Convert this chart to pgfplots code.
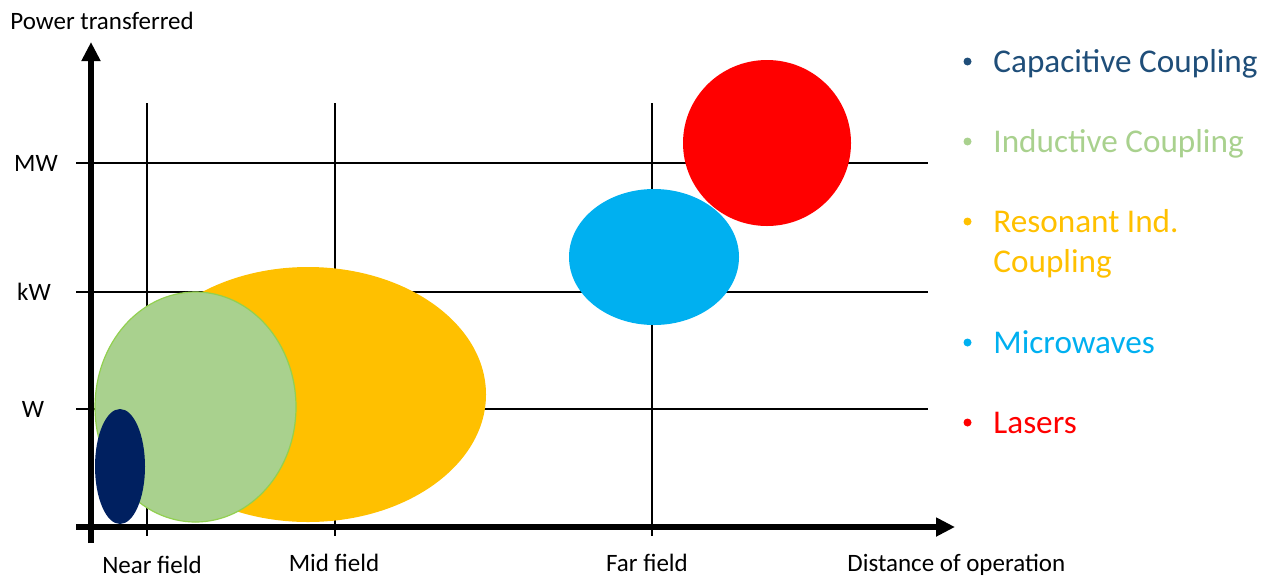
\documentclass[border=0pt]{standalone}
\usepackage{pgfplots}
\pgfplotsset{compat=1.18}
\usepackage{fontspec}
\setmainfont{Carlito}
\usetikzlibrary{arrows.meta}

\definecolor{capfill}{HTML}{002060}
\definecolor{captext}{HTML}{1F4E79}
\definecolor{indfill}{HTML}{A9D18E}
\definecolor{indedge}{HTML}{92D050}
\definecolor{resfill}{HTML}{FFC000}
\definecolor{micfill}{HTML}{00B0F0}
\definecolor{lasfill}{HTML}{FF0000}

\begin{document}
\begin{tikzpicture}
\begin{axis}[
  width=636pt, height=289.5pt, scale only axis,
  xmin=0, xmax=1272, ymin=0, ymax=579, y dir=reverse,
  axis lines=none, clip=false,
]
% corners of the canvas
\coordinate (bl) at (axis cs:0,579);
\coordinate (tr) at (axis cs:1272,0);

% reference lines: distance regimes and power levels
\draw[black, line width=0.6pt] (axis cs:147,103) -- (axis cs:147,536);
\draw[black, line width=0.6pt] (axis cs:335,103) -- (axis cs:335,536);
\draw[black, line width=0.6pt] (axis cs:652,103) -- (axis cs:652,536);
\draw[black, line width=0.6pt] (axis cs:76,163) -- (axis cs:928,163);
\draw[black, line width=0.6pt] (axis cs:76,292) -- (axis cs:928,292);
\draw[black, line width=0.6pt] (axis cs:76,409) -- (axis cs:928,409);

% technology regions (centre x, centre y, radius x, radius y)
\fill[resfill] (axis cs:308,394.5) ellipse [x radius=178, y radius=127.5];
\filldraw[fill=indfill, draw=indedge, line width=0.6pt] (axis cs:195.5,407) ellipse [x radius=100.5, y radius=115];
\fill[capfill] (axis cs:120,466.5) ellipse [x radius=25, y radius=57.5];
\fill[micfill] (axis cs:654,257) ellipse [x radius=85, y radius=68];
\fill[lasfill] (axis cs:767,143) ellipse [x radius=84, y radius=83];

% main axes with arrows
\draw[line width=3pt, -{Triangle[length=9.5pt, width=9pt]}] (axis cs:76,527) -- (axis cs:955,527);
\draw[line width=3pt, -{Triangle[length=9.5pt, width=9pt]}] (axis cs:91,543) -- (axis cs:91,42);

\begin{scope}[every node/.style={inner sep=0pt, font=\fontsize{12.5}{15}\selectfont}]
% axis titles
\node[anchor=base west] at (axis cs:10,29) {Power transferred};
\node[anchor=base west] at (axis cs:847,571) {Distance of operation};

% power levels
\node[anchor=base] at (axis cs:36,171) {MW};
\node[anchor=base] at (axis cs:34,300) {kW};
\node[anchor=base] at (axis cs:33,417) {W};

% distance regimes
\node[anchor=base] at (axis cs:152,573) {Near field};
\node[anchor=base] at (axis cs:334,571) {Mid field};
\node[anchor=base] at (axis cs:647,571) {Far field};
\end{scope}

% legend
\begin{scope}[every node/.style={anchor=base west, font=\fontsize{16.6}{20}\selectfont, inner sep=0pt}]
\node[text=captext] at (axis cs:993,72) {Capacitive Coupling};
\node[text=indfill] at (axis cs:993,152) {Inductive Coupling};
\node[text=resfill] at (axis cs:993,232) {Resonant Ind.};
\node[text=resfill] at (axis cs:993,272) {Coupling};
\node[text=micfill] at (axis cs:993,353) {Microwaves};
\node[text=lasfill] at (axis cs:993,433) {Lasers};
\end{scope}
\fill[captext] (axis cs:967.5,61.5) circle [radius=4];
\fill[indfill] (axis cs:967.5,141.5) circle [radius=4];
\fill[resfill] (axis cs:967.5,221.5) circle [radius=4];
\fill[micfill] (axis cs:967.5,342.5) circle [radius=4];
\fill[lasfill] (axis cs:967.5,422.5) circle [radius=4];
\end{axis}
\pgfresetboundingbox
\path[use as bounding box] (bl) rectangle (tr);
\end{tikzpicture}
\end{document}
